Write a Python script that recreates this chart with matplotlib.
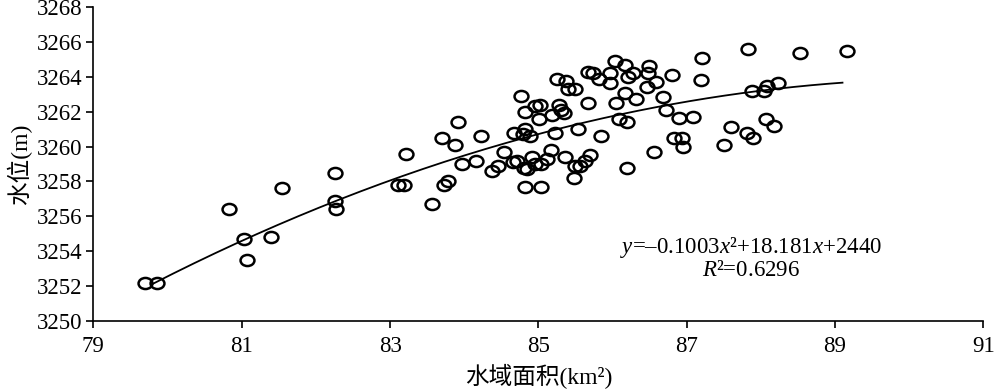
import numpy as np
import matplotlib
matplotlib.use("Agg")
import matplotlib.pyplot as plt
from matplotlib.path import Path
from matplotlib.transforms import Affine2D

plt.rcParams['font.family'] = ['Liberation Serif', 'Noto Sans CJK SC']
plt.rcParams['mathtext.fontset'] = 'custom'
plt.rcParams['mathtext.rm'] = 'Liberation Serif'
plt.rcParams['mathtext.it'] = 'Liberation Serif:italic'

# ***** data
area = [79.70, 79.86, 80.83, 81.03, 81.07, 81.40, 81.54, 82.26, 82.26, 82.27,
        83.11, 83.19, 83.22, 83.57, 83.73, 83.78, 83.70, 83.88, 83.92, 83.97,
        84.16, 84.22, 84.38, 84.46, 84.54, 84.66, 84.71, 84.67, 84.77, 84.82,
        84.82, 84.89, 84.79, 84.80, 84.84, 84.82, 84.92, 84.95, 85.02, 85.01,
        84.95, 85.04, 85.03, 85.11, 85.17, 85.19, 85.23, 85.25, 85.28, 85.30,
        85.34, 85.36, 85.37, 85.40, 85.50, 85.48, 85.50, 85.56, 85.54, 85.63,
        85.70, 85.67, 85.67, 85.73, 85.82, 85.84, 85.96, 85.96, 86.03, 86.05,
        86.09, 86.17, 86.17, 86.19, 86.20, 86.21, 86.28, 86.31, 86.46, 86.48,
        86.49, 86.58, 86.56, 86.68, 86.72, 86.80, 86.83, 86.93, 86.95, 86.90,
        87.09, 87.21, 87.19, 87.50, 87.60, 87.83, 87.81, 87.89, 87.88, 88.04,
        88.08, 88.07, 88.18, 88.23, 88.53, 89.16]
level = [3252.2, 3252.2, 3256.4, 3254.7, 3253.5, 3254.8, 3257.6, 3258.5, 3256.9, 3256.4,
         3257.8, 3257.8, 3259.6, 3256.7, 3257.8, 3258.0, 3260.5, 3260.1, 3261.4, 3259.0,
         3259.2, 3260.6, 3258.6, 3258.9, 3259.7, 3259.1, 3259.2, 3260.8, 3262.9, 3262.0,
         3261.0, 3260.6, 3260.7, 3258.8, 3258.7, 3257.7, 3259.4, 3262.3, 3262.4, 3261.6,
         3259.0, 3259.0, 3257.7, 3259.3, 3259.8, 3261.8, 3260.8, 3263.9, 3262.4, 3262.1,
         3261.9, 3259.4, 3263.75, 3263.3, 3263.3, 3258.2, 3258.9, 3258.9, 3261.0, 3259.2,
         3259.5, 3262.5, 3264.3, 3264.2, 3263.9, 3260.6, 3264.2, 3263.65, 3264.9, 3262.5,
         3261.6, 3264.7, 3263.1, 3258.8, 3261.4, 3264.0, 3264.2, 3262.7, 3263.4, 3264.2,
         3264.6, 3263.7, 3259.7, 3262.85, 3262.1, 3264.1, 3260.5, 3260.5, 3260.0, 3261.65,
         3261.7, 3265.05, 3263.8, 3260.1, 3261.1, 3265.6, 3260.75, 3260.5, 3263.2, 3263.2,
         3263.45, 3261.6, 3261.2, 3263.65, 3265.35, 3265.5]

# fit coefficients (y = a x^2 + b x + c)
a, b, c = -0.1003, 18.181, 2440.0
xfit = np.linspace(79.8, 89.1, 200)
yfit = a * xfit**2 + b * xfit + c

# open ellipse marker, a bit wider than tall
ellipse = Path.unit_circle().transformed(Affine2D().scale(1.25, 1.0))

# %%%%%%%%%%%%%%%% plotting section %%%%%%%%%%%%%%%%%%%%%%%%%%
fig = plt.figure(figsize=(10, 3.91), dpi=100)
ax = fig.add_axes([0.0934, 0.179, 0.890, 0.803])

ax.plot(area, level, linestyle='none', marker=ellipse, markersize=10,
        markerfacecolor='none', markeredgecolor='black', markeredgewidth=1.8)
ax.plot(xfit, yfit, 'k-', linewidth=1.3)

ax.set_xlim(79, 91)
ax.set_ylim(3250, 3268)
ax.set_xticks(np.arange(79, 92, 2))
ax.set_yticks(np.arange(3250, 3269, 2))
ax.tick_params(direction='out', length=5, width=1.2, labelsize=16.5)
ax.tick_params(axis='x', pad=6)
ax.tick_params(axis='y', pad=3)
ax.spines['top'].set_visible(False)
ax.spines['right'].set_visible(False)
ax.spines['left'].set_linewidth(1.2)
ax.spines['bottom'].set_linewidth(1.2)

ax.set_xlabel("水域面积(km²)", fontsize=17, labelpad=5)
ax.set_ylabel("水位(m)", fontsize=17, labelpad=3)

ax.text(87.87, 3254.2, "$y$=–0.1003$x$²+18.181$x$+2440", fontsize=16.5,
        ha='center', va='center')
ax.text(87.87, 3252.9, "$R$²=0.6296", fontsize=16.5, ha='center', va='center')

fig.savefig('out.png', dpi=100)
